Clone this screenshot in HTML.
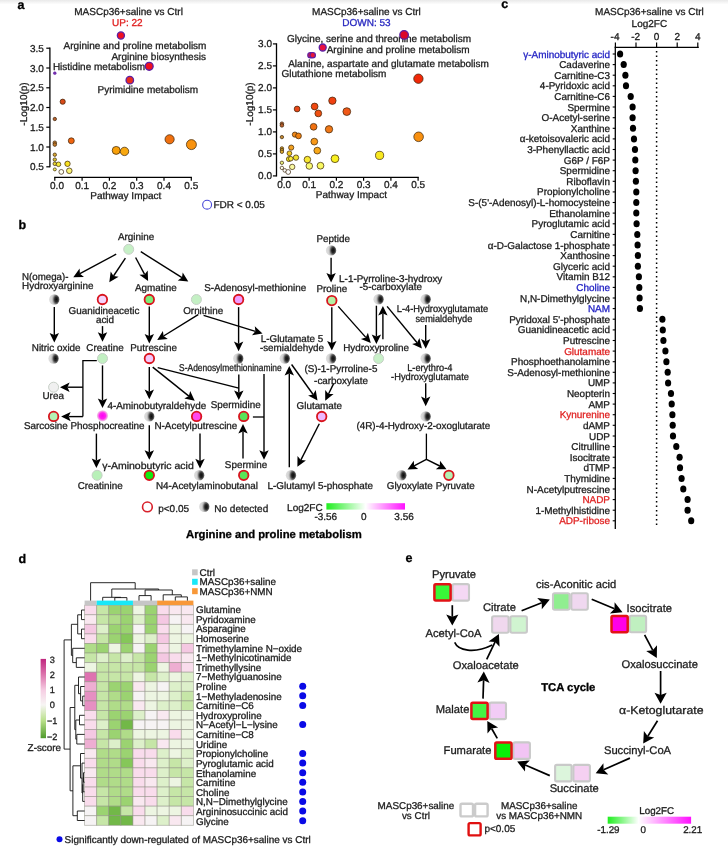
<!DOCTYPE html>
<html><head><meta charset="utf-8"><title>Figure</title>
<style>html,body{margin:0;padding:0;background:#fff}body{width:728px;height:846px;overflow:hidden}svg{display:block;font-family:"Liberation Sans",sans-serif;text-rendering:geometricPrecision}text{stroke:#1c1c1c;stroke-width:0.3px}</style>
</head><body>
<svg width="728" height="846" viewBox="0 0 728 846" fill="#1c1c1c">
<rect width="728" height="846" fill="#fff"/>
<rect width="728" height="4.5" fill="url(#topb)"/>
<g style="will-change:opacity">
<defs>
<radialGradient id="nd" cx="0.7" cy="0.5" r="0.64" gradientTransform="translate(0.7 0.5) scale(1 1.5) translate(-0.7 -0.5)"><stop offset="0" stop-color="#0e0e0e"/><stop offset="0.25" stop-color="#2a2a2a"/><stop offset="0.42" stop-color="#707070"/><stop offset="0.56" stop-color="#b4b4b4"/><stop offset="0.72" stop-color="#d4d4d4"/><stop offset="1" stop-color="#dcdcdc"/></radialGradient>
<linearGradient id="gb" x1="0" y1="0" x2="1" y2="0"><stop offset="0" stop-color="#1fee1f"/><stop offset="0.5" stop-color="#ffffff"/><stop offset="1" stop-color="#ff10ff"/></linearGradient>
<linearGradient id="ge" x1="0" y1="0" x2="1" y2="0"><stop offset="0" stop-color="#1fee1f"/><stop offset="0.37" stop-color="#ffffff"/><stop offset="1" stop-color="#ff10ff"/></linearGradient>
<linearGradient id="gz" x1="0" y1="0" x2="0" y2="1"><stop offset="0" stop-color="#c0267e"/><stop offset="0.2" stop-color="#dd77ae"/><stop offset="0.4" stop-color="#f6cfe4"/><stop offset="0.58" stop-color="#f7f5f4"/><stop offset="0.78" stop-color="#b9e08a"/><stop offset="1" stop-color="#4f9a2c"/></linearGradient>
<radialGradient id="glow"><stop offset="0" stop-color="#ff00f4"/><stop offset="0.55" stop-color="#ff22f0"/><stop offset="0.8" stop-color="#f88ce8"/><stop offset="1" stop-color="#eed0e8"/></radialGradient>
<linearGradient id="topb" x1="0" y1="0" x2="0" y2="1"><stop offset="0" stop-color="#e9e9e9"/><stop offset="1" stop-color="#ffffff"/></linearGradient>
<filter id="soft" x="-20%" y="-20%" width="140%" height="140%"><feGaussianBlur stdDeviation="0.35"/></filter>
</defs>
<text x="17.5" y="9" font-size="12.5" font-weight="bold" fill="#000" style="stroke:#000">a</text>
<line x1="49.9" y1="47.6" x2="49.9" y2="167.3" stroke="#000" stroke-width="1.3"/>
<line x1="46.3" y1="48.2" x2="49.9" y2="48.2" stroke="#000" stroke-width="1.2"/>
<text x="43.8" y="51.8" font-size="10" text-anchor="end">3.5</text>
<line x1="46.3" y1="68.0" x2="49.9" y2="68.0" stroke="#000" stroke-width="1.2"/>
<text x="43.8" y="71.6" font-size="10" text-anchor="end">3.0</text>
<line x1="46.3" y1="87.8" x2="49.9" y2="87.8" stroke="#000" stroke-width="1.2"/>
<text x="43.8" y="91.4" font-size="10" text-anchor="end">2.5</text>
<line x1="46.3" y1="107.5" x2="49.9" y2="107.5" stroke="#000" stroke-width="1.2"/>
<text x="43.8" y="111.1" font-size="10" text-anchor="end">2.0</text>
<line x1="46.3" y1="127.2" x2="49.9" y2="127.2" stroke="#000" stroke-width="1.2"/>
<text x="43.8" y="130.8" font-size="10" text-anchor="end">1.5</text>
<line x1="46.3" y1="147.0" x2="49.9" y2="147.0" stroke="#000" stroke-width="1.2"/>
<text x="43.8" y="150.6" font-size="10" text-anchor="end">1.0</text>
<line x1="46.3" y1="166.8" x2="49.9" y2="166.8" stroke="#000" stroke-width="1.2"/>
<text x="43.8" y="170.4" font-size="10" text-anchor="end">0.5</text>
<line x1="54.2" y1="177.3" x2="191.9" y2="177.3" stroke="#000" stroke-width="1.3"/>
<line x1="54.8" y1="177.3" x2="54.8" y2="180.70000000000002" stroke="#000" stroke-width="1.2"/>
<text x="57.0" y="188.7" font-size="10" text-anchor="middle">0.0</text>
<line x1="82.1" y1="177.3" x2="82.1" y2="180.70000000000002" stroke="#000" stroke-width="1.2"/>
<text x="82.1" y="188.7" font-size="10" text-anchor="middle">0.1</text>
<line x1="109.4" y1="177.3" x2="109.4" y2="180.70000000000002" stroke="#000" stroke-width="1.2"/>
<text x="109.4" y="188.7" font-size="10" text-anchor="middle">0.2</text>
<line x1="136.7" y1="177.3" x2="136.7" y2="180.70000000000002" stroke="#000" stroke-width="1.2"/>
<text x="136.7" y="188.7" font-size="10" text-anchor="middle">0.3</text>
<line x1="164.0" y1="177.3" x2="164.0" y2="180.70000000000002" stroke="#000" stroke-width="1.2"/>
<text x="164.0" y="188.7" font-size="10" text-anchor="middle">0.4</text>
<line x1="191.3" y1="177.3" x2="191.3" y2="180.70000000000002" stroke="#000" stroke-width="1.2"/>
<text x="191.3" y="188.7" font-size="10" text-anchor="middle">0.5</text>
<text x="125.8" y="198.9" font-size="10" text-anchor="middle">Pathway Impact</text>
<text x="27.3" y="104" font-size="10" text-anchor="middle" transform="rotate(-90 27.3 104)">-Log10(p)</text>
<text x="128.6" y="14.6" font-size="10" text-anchor="middle">MASCp36+saline vs Ctrl</text>
<text x="127.39999999999999" y="26.3" font-size="10" text-anchor="middle" fill="#e02222" style="stroke:#e02222">UP: 22</text>
<text x="63.6" y="48.6" font-size="10">Arginine and proline metabolism</text>
<text x="111.4" y="60" font-size="10">Arginine biosynthesis</text>
<text x="52.9" y="69.6" font-size="10">Histidine metabolism</text>
<text x="97.5" y="92.9" font-size="10">Pyrimidine metabolism</text>
<circle cx="54.8" cy="73.2" r="1.4" fill="#7a2fa8" stroke="#5a1fb0" stroke-width="0.5"/>
<circle cx="62.7" cy="101.7" r="2.6" fill="#d84a18" stroke="#3a2208" stroke-width="0.7"/>
<circle cx="54.8" cy="119" r="1.7" fill="#b8602c" stroke="#3a2208" stroke-width="0.7"/>
<circle cx="71.3" cy="140.8" r="3.0" fill="#f0640f" stroke="#3a2208" stroke-width="0.7"/>
<circle cx="54.8" cy="142.7" r="1.8" fill="#c07828" stroke="#3a2208" stroke-width="0.7"/>
<circle cx="54.8" cy="144.6" r="1.8" fill="#c07828" stroke="#3a2208" stroke-width="0.7"/>
<circle cx="169.6" cy="139.3" r="4.6" fill="#f0700f" stroke="#3a2208" stroke-width="0.7"/>
<circle cx="191.4" cy="144.6" r="5.0" fill="#f8920f" stroke="#3a2208" stroke-width="0.7"/>
<circle cx="116.2" cy="150.4" r="4.0" fill="#f8a008" stroke="#3a2208" stroke-width="0.7"/>
<circle cx="124.5" cy="151.4" r="4.2" fill="#f8a810" stroke="#3a2208" stroke-width="0.7"/>
<circle cx="54.8" cy="154.7" r="1.7" fill="#d8a830" stroke="#3a2208" stroke-width="0.7"/>
<circle cx="54.8" cy="159.6" r="1.7" fill="#d8c030" stroke="#3a2208" stroke-width="0.7"/>
<circle cx="54.8" cy="163.8" r="1.8" fill="#e8d830" stroke="#3a2208" stroke-width="0.7"/>
<circle cx="58.5" cy="164.3" r="2.3" fill="#f2ea3a" stroke="#3a2208" stroke-width="0.7"/>
<circle cx="67.5" cy="163.8" r="2.7" fill="#f8e020" stroke="#3a2208" stroke-width="0.7"/>
<circle cx="54.8" cy="169.4" r="1.5" fill="#f0f060" stroke="#3a2208" stroke-width="0.7"/>
<circle cx="61.3" cy="171.9" r="2.4" fill="#fffff2" stroke="#3a2208" stroke-width="0.7"/>
<circle cx="69.3" cy="170.8" r="2.8" fill="#f8f272" stroke="#3a2208" stroke-width="0.7"/>
<circle cx="120.9" cy="35.5" r="3.55" fill="#f01020" stroke="#5c1fa4" stroke-width="1.3"/>
<circle cx="149.2" cy="66.3" r="3.95" fill="#f01020" stroke="#5c1fa4" stroke-width="1.3"/>
<circle cx="129.8" cy="80.2" r="3.75" fill="#e82c1c" stroke="#5c1fa4" stroke-width="1.3"/>
<line x1="276.5" y1="43.3" x2="276.5" y2="176.5" stroke="#000" stroke-width="1.3"/>
<line x1="272.9" y1="43.9" x2="276.5" y2="43.9" stroke="#000" stroke-width="1.2"/>
<text x="272" y="47.0" font-size="10" text-anchor="end">3.0</text>
<line x1="272.9" y1="65.9" x2="276.5" y2="65.9" stroke="#000" stroke-width="1.2"/>
<text x="272" y="69.0" font-size="10" text-anchor="end">2.5</text>
<line x1="272.9" y1="87.9" x2="276.5" y2="87.9" stroke="#000" stroke-width="1.2"/>
<text x="272" y="91.0" font-size="10" text-anchor="end">2.0</text>
<line x1="272.9" y1="109.9" x2="276.5" y2="109.9" stroke="#000" stroke-width="1.2"/>
<text x="272" y="113.0" font-size="10" text-anchor="end">1.5</text>
<line x1="272.9" y1="131.9" x2="276.5" y2="131.9" stroke="#000" stroke-width="1.2"/>
<text x="272" y="135.0" font-size="10" text-anchor="end">1.0</text>
<line x1="272.9" y1="153.9" x2="276.5" y2="153.9" stroke="#000" stroke-width="1.2"/>
<text x="272" y="157.0" font-size="10" text-anchor="end">0.5</text>
<line x1="272.9" y1="175.9" x2="276.5" y2="175.9" stroke="#000" stroke-width="1.2"/>
<text x="272" y="179.0" font-size="10" text-anchor="end">0.0</text>
<line x1="281.3" y1="177.4" x2="418.8" y2="177.4" stroke="#000" stroke-width="1.3"/>
<line x1="281.9" y1="177.4" x2="281.9" y2="180.8" stroke="#000" stroke-width="1.2"/>
<text x="284.1" y="188.2" font-size="10" text-anchor="middle">0.0</text>
<line x1="309.1" y1="177.4" x2="309.1" y2="180.8" stroke="#000" stroke-width="1.2"/>
<text x="309.1" y="188.2" font-size="10" text-anchor="middle">0.1</text>
<line x1="336.4" y1="177.4" x2="336.4" y2="180.8" stroke="#000" stroke-width="1.2"/>
<text x="336.4" y="188.2" font-size="10" text-anchor="middle">0.2</text>
<line x1="363.6" y1="177.4" x2="363.6" y2="180.8" stroke="#000" stroke-width="1.2"/>
<text x="363.6" y="188.2" font-size="10" text-anchor="middle">0.3</text>
<line x1="390.9" y1="177.4" x2="390.9" y2="180.8" stroke="#000" stroke-width="1.2"/>
<text x="390.9" y="188.2" font-size="10" text-anchor="middle">0.4</text>
<line x1="418.1" y1="177.4" x2="418.1" y2="180.8" stroke="#000" stroke-width="1.2"/>
<text x="418.1" y="188.2" font-size="10" text-anchor="middle">0.5</text>
<text x="351.4" y="198.4" font-size="10" text-anchor="middle">Pathway Impact</text>
<text x="253.2" y="104" font-size="10" text-anchor="middle" transform="rotate(-90 253.2 104)">-Log10(p)</text>
<text x="366.4" y="14.6" font-size="10" text-anchor="middle">MASCp36+saline vs Ctrl</text>
<text x="366.4" y="26.3" font-size="10" text-anchor="middle" fill="#2a2ac0" style="stroke:#2a2ac0">DOWN: 53</text>
<text x="287.1" y="41.5" font-size="10">Glycine, serine and threonine metabolism</text>
<text x="326.7" y="53.4" font-size="10">Arginine and proline metabolism</text>
<text x="288.2" y="66.8" font-size="10">Alanine, aspartate and glutamate metabolism</text>
<text x="281.4" y="76.7" font-size="10">Glutathione metabolism</text>
<circle cx="332.4" cy="100.7" r="3.7" fill="#f04010" stroke="#3a2208" stroke-width="0.7"/>
<circle cx="314.6" cy="106.5" r="3.4" fill="#f04810" stroke="#3a2208" stroke-width="0.7"/>
<circle cx="297.1" cy="109" r="2.9" fill="#e84818" stroke="#3a2208" stroke-width="0.7"/>
<circle cx="318.3" cy="113.4" r="3.4" fill="#f05010" stroke="#3a2208" stroke-width="0.7"/>
<circle cx="346.8" cy="111.6" r="3.9" fill="#f05818" stroke="#3a2208" stroke-width="0.7"/>
<circle cx="281.9" cy="123.7" r="1.8" fill="#b86030" stroke="#3a2208" stroke-width="0.7"/>
<circle cx="281.9" cy="125.4" r="1.8" fill="#b86030" stroke="#3a2208" stroke-width="0.7"/>
<circle cx="313.6" cy="126.8" r="3.4" fill="#f07010" stroke="#3a2208" stroke-width="0.7"/>
<circle cx="329" cy="129.3" r="3.7" fill="#f07818" stroke="#3a2208" stroke-width="0.7"/>
<circle cx="294.9" cy="134.6" r="2.6" fill="#f08818" stroke="#3a2208" stroke-width="0.7"/>
<circle cx="298.5" cy="135.9" r="2.9" fill="#f08010" stroke="#3a2208" stroke-width="0.7"/>
<circle cx="281.9" cy="137.1" r="1.7" fill="#c08830" stroke="#3a2208" stroke-width="0.7"/>
<circle cx="314.3" cy="141.6" r="3.4" fill="#f89818" stroke="#3a2208" stroke-width="0.7"/>
<circle cx="291.2" cy="147.6" r="2.6" fill="#f0a020" stroke="#3a2208" stroke-width="0.7"/>
<circle cx="281.9" cy="148.4" r="1.7" fill="#d8a830" stroke="#3a2208" stroke-width="0.7"/>
<circle cx="281.9" cy="150.1" r="1.7" fill="#d8a830" stroke="#3a2208" stroke-width="0.7"/>
<circle cx="281.9" cy="151.8" r="1.7" fill="#d8a830" stroke="#3a2208" stroke-width="0.7"/>
<circle cx="317.3" cy="150.6" r="3.4" fill="#f8a818" stroke="#3a2208" stroke-width="0.7"/>
<circle cx="289.4" cy="153.3" r="2.4" fill="#f0c820" stroke="#3a2208" stroke-width="0.7"/>
<circle cx="296" cy="157.6" r="2.7" fill="#f0e030" stroke="#3a2208" stroke-width="0.7"/>
<circle cx="288.9" cy="159.1" r="2.5" fill="#f0e020" stroke="#3a2208" stroke-width="0.7"/>
<circle cx="290.8" cy="158.7" r="2.3" fill="#f8e838" stroke="#3a2208" stroke-width="0.7"/>
<circle cx="307.4" cy="159.6" r="3.3" fill="#f8e830" stroke="#3a2208" stroke-width="0.7"/>
<circle cx="335" cy="158.7" r="3.9" fill="#f8f020" stroke="#3a2208" stroke-width="0.7"/>
<circle cx="281.9" cy="162.8" r="1.7" fill="#e8f080" stroke="#3a2208" stroke-width="0.7"/>
<circle cx="309.3" cy="166" r="3.3" fill="#f8f870" stroke="#3a2208" stroke-width="0.7"/>
<circle cx="320.5" cy="165.7" r="3.4" fill="#f8f860" stroke="#3a2208" stroke-width="0.7"/>
<circle cx="292.2" cy="166.9" r="2.7" fill="#f8f8a0" stroke="#3a2208" stroke-width="0.7"/>
<circle cx="281.9" cy="167.9" r="1.7" fill="#fffff0" stroke="#3a2208" stroke-width="0.7"/>
<circle cx="284.8" cy="170.4" r="1.8" fill="#ffffff" stroke="#3a2208" stroke-width="0.7"/>
<circle cx="288.2" cy="172" r="2.4" fill="#ffffff" stroke="#3a2208" stroke-width="0.7"/>
<circle cx="418.4" cy="78.7" r="4.7" fill="#f02808" stroke="#3a2208" stroke-width="0.7"/>
<circle cx="418.6" cy="136.8" r="4.8" fill="#f89010" stroke="#3a2208" stroke-width="0.7"/>
<circle cx="379.6" cy="155.4" r="4.1" fill="#f8e820" stroke="#3a2208" stroke-width="0.7"/>
<circle cx="404.1" cy="34.9" r="4.3" fill="#dc0628" stroke="#5c1fa4" stroke-width="1.3"/>
<circle cx="322.7" cy="47.5" r="3.5" fill="#e81040" stroke="#5c1fa4" stroke-width="1.3"/>
<circle cx="310.5" cy="55.2" r="2.7" fill="#e81838" stroke="#5c1fa4" stroke-width="1.2"/>
<circle cx="312.7" cy="55.2" r="2.7" fill="#e81838" stroke="#5c1fa4" stroke-width="1.2"/>
<circle cx="207.1" cy="204.7" r="4.45" fill="#fff" stroke="#4848d8" stroke-width="1.1"/>
<text x="213.4" y="208.1" font-size="10">FDR &lt; 0.05</text>
<text x="501.2" y="8.3" font-size="12.5" font-weight="bold" fill="#000" style="stroke:#000">c</text>
<text x="649.4" y="14.8" font-size="10" text-anchor="middle">MASCp36+saline vs Ctrl</text>
<text x="649.4" y="27" font-size="10" text-anchor="middle">Log2FC</text>
<line x1="614.7" y1="47.3" x2="698.8" y2="47.3" stroke="#000" stroke-width="1.3"/>
<line x1="615.4" y1="42.6" x2="615.4" y2="47.3" stroke="#000" stroke-width="1.2"/>
<text x="615.0" y="39.6" font-size="10" text-anchor="middle">-4</text>
<line x1="636.0" y1="42.6" x2="636.0" y2="47.3" stroke="#000" stroke-width="1.2"/>
<text x="635.6" y="39.6" font-size="10" text-anchor="middle">-2</text>
<line x1="656.6" y1="42.6" x2="656.6" y2="47.3" stroke="#000" stroke-width="1.2"/>
<text x="656.6" y="39.6" font-size="10" text-anchor="middle">0</text>
<line x1="677.2" y1="42.6" x2="677.2" y2="47.3" stroke="#000" stroke-width="1.2"/>
<text x="677.2" y="39.6" font-size="10" text-anchor="middle">2</text>
<line x1="697.8" y1="42.6" x2="697.8" y2="47.3" stroke="#000" stroke-width="1.2"/>
<text x="697.8" y="39.6" font-size="10" text-anchor="middle">4</text>
<line x1="615.3" y1="46.7" x2="615.3" y2="529" stroke="#000" stroke-width="1.3"/>
<line x1="656.6" y1="49" x2="656.6" y2="528" stroke="#000" stroke-width="1.5" stroke-dasharray="1.5 3" stroke-dashoffset="-2.1"/>
<text x="610.0" y="57.5" font-size="9.95" text-anchor="end" fill="#2424c4" style="stroke:#2424c4">γ-Aminobutyric acid</text>
<line x1="612.7" y1="54.0" x2="615.3" y2="54.0" stroke="#000" stroke-width="1.1"/>
<ellipse cx="620.1" cy="54.0" rx="3.1" ry="3.5" fill="#000"/>
<text x="610.0" y="68.1" font-size="9.95" text-anchor="end">Cadaverine</text>
<line x1="612.7" y1="64.6" x2="615.3" y2="64.6" stroke="#000" stroke-width="1.1"/>
<ellipse cx="623.7" cy="64.6" rx="3.1" ry="3.5" fill="#000"/>
<text x="610.0" y="78.7" font-size="9.95" text-anchor="end">Carnitine-C3</text>
<line x1="612.7" y1="75.2" x2="615.3" y2="75.2" stroke="#000" stroke-width="1.1"/>
<ellipse cx="625.4" cy="75.2" rx="3.1" ry="3.5" fill="#000"/>
<text x="610.0" y="89.3" font-size="9.95" text-anchor="end">4-Pyridoxic acid</text>
<line x1="612.7" y1="85.8" x2="615.3" y2="85.8" stroke="#000" stroke-width="1.1"/>
<ellipse cx="626.0" cy="85.8" rx="3.1" ry="3.5" fill="#000"/>
<text x="610.0" y="99.9" font-size="9.95" text-anchor="end">Carnitine-C6</text>
<line x1="612.7" y1="96.4" x2="615.3" y2="96.4" stroke="#000" stroke-width="1.1"/>
<ellipse cx="630.7" cy="96.4" rx="3.1" ry="3.5" fill="#000"/>
<text x="610.0" y="110.5" font-size="9.95" text-anchor="end">Spermine</text>
<line x1="612.7" y1="107.0" x2="615.3" y2="107.0" stroke="#000" stroke-width="1.1"/>
<ellipse cx="632.6" cy="107.0" rx="3.1" ry="3.5" fill="#000"/>
<text x="610.0" y="121.2" font-size="9.95" text-anchor="end">O-Acetyl-serine</text>
<line x1="612.7" y1="117.7" x2="615.3" y2="117.7" stroke="#000" stroke-width="1.1"/>
<ellipse cx="632.6" cy="117.7" rx="3.1" ry="3.5" fill="#000"/>
<text x="610.0" y="131.8" font-size="9.95" text-anchor="end">Xanthine</text>
<line x1="612.7" y1="128.3" x2="615.3" y2="128.3" stroke="#000" stroke-width="1.1"/>
<ellipse cx="633.0" cy="128.3" rx="3.1" ry="3.5" fill="#000"/>
<text x="610.0" y="142.4" font-size="9.95" text-anchor="end">α-ketoisovaleric acid</text>
<line x1="612.7" y1="138.9" x2="615.3" y2="138.9" stroke="#000" stroke-width="1.1"/>
<ellipse cx="634.0" cy="138.9" rx="3.1" ry="3.5" fill="#000"/>
<text x="610.0" y="153.0" font-size="9.95" text-anchor="end">3-Phenyllactic acid</text>
<line x1="612.7" y1="149.5" x2="615.3" y2="149.5" stroke="#000" stroke-width="1.1"/>
<ellipse cx="635.0" cy="149.5" rx="3.1" ry="3.5" fill="#000"/>
<text x="610.0" y="163.6" font-size="9.95" text-anchor="end">G6P / F6P</text>
<line x1="612.7" y1="160.1" x2="615.3" y2="160.1" stroke="#000" stroke-width="1.1"/>
<ellipse cx="635.3" cy="160.1" rx="3.1" ry="3.5" fill="#000"/>
<text x="610.0" y="174.2" font-size="9.95" text-anchor="end">Spermidine</text>
<line x1="612.7" y1="170.7" x2="615.3" y2="170.7" stroke="#000" stroke-width="1.1"/>
<ellipse cx="635.6" cy="170.7" rx="3.1" ry="3.5" fill="#000"/>
<text x="610.0" y="184.8" font-size="9.95" text-anchor="end">Riboflavin</text>
<line x1="612.7" y1="181.3" x2="615.3" y2="181.3" stroke="#000" stroke-width="1.1"/>
<ellipse cx="635.9" cy="181.3" rx="3.1" ry="3.5" fill="#000"/>
<text x="610.0" y="195.4" font-size="9.95" text-anchor="end">Propionylcholine</text>
<line x1="612.7" y1="191.9" x2="615.3" y2="191.9" stroke="#000" stroke-width="1.1"/>
<ellipse cx="636.3" cy="191.9" rx="3.1" ry="3.5" fill="#000"/>
<text x="610.0" y="206.0" font-size="9.95" text-anchor="end">S-(5'-Adenosyl)-L-homocysteine</text>
<line x1="612.7" y1="202.5" x2="615.3" y2="202.5" stroke="#000" stroke-width="1.1"/>
<ellipse cx="636.3" cy="202.5" rx="3.1" ry="3.5" fill="#000"/>
<text x="610.0" y="216.6" font-size="9.95" text-anchor="end">Ethanolamine</text>
<line x1="612.7" y1="213.1" x2="615.3" y2="213.1" stroke="#000" stroke-width="1.1"/>
<ellipse cx="636.3" cy="213.1" rx="3.1" ry="3.5" fill="#000"/>
<text x="610.0" y="227.3" font-size="9.95" text-anchor="end">Pyroglutamic acid</text>
<line x1="612.7" y1="223.8" x2="615.3" y2="223.8" stroke="#000" stroke-width="1.1"/>
<ellipse cx="636.6" cy="223.8" rx="3.1" ry="3.5" fill="#000"/>
<text x="610.0" y="237.9" font-size="9.95" text-anchor="end">Carnitine</text>
<line x1="612.7" y1="234.4" x2="615.3" y2="234.4" stroke="#000" stroke-width="1.1"/>
<ellipse cx="637.3" cy="234.4" rx="3.1" ry="3.5" fill="#000"/>
<text x="610.0" y="248.5" font-size="9.95" text-anchor="end">α-D-Galactose 1-phosphate</text>
<line x1="612.7" y1="245.0" x2="615.3" y2="245.0" stroke="#000" stroke-width="1.1"/>
<ellipse cx="637.6" cy="245.0" rx="3.1" ry="3.5" fill="#000"/>
<text x="610.0" y="259.1" font-size="9.95" text-anchor="end">Xanthosine</text>
<line x1="612.7" y1="255.6" x2="615.3" y2="255.6" stroke="#000" stroke-width="1.1"/>
<ellipse cx="637.9" cy="255.6" rx="3.1" ry="3.5" fill="#000"/>
<text x="610.0" y="269.7" font-size="9.95" text-anchor="end">Glyceric acid</text>
<line x1="612.7" y1="266.2" x2="615.3" y2="266.2" stroke="#000" stroke-width="1.1"/>
<ellipse cx="637.9" cy="266.2" rx="3.1" ry="3.5" fill="#000"/>
<text x="610.0" y="280.3" font-size="9.95" text-anchor="end">Vitamin B12</text>
<line x1="612.7" y1="276.8" x2="615.3" y2="276.8" stroke="#000" stroke-width="1.1"/>
<ellipse cx="638.9" cy="276.8" rx="3.1" ry="3.5" fill="#000"/>
<text x="610.0" y="290.9" font-size="9.95" text-anchor="end" fill="#2424c4" style="stroke:#2424c4">Choline</text>
<line x1="612.7" y1="287.4" x2="615.3" y2="287.4" stroke="#000" stroke-width="1.1"/>
<ellipse cx="639.3" cy="287.4" rx="3.1" ry="3.5" fill="#000"/>
<text x="610.0" y="301.5" font-size="9.95" text-anchor="end">N,N-Dimethylglycine</text>
<line x1="612.7" y1="298.0" x2="615.3" y2="298.0" stroke="#000" stroke-width="1.1"/>
<ellipse cx="639.6" cy="298.0" rx="3.1" ry="3.5" fill="#000"/>
<text x="610.0" y="312.1" font-size="9.95" text-anchor="end" fill="#2424c4" style="stroke:#2424c4">NAM</text>
<line x1="612.7" y1="308.6" x2="615.3" y2="308.6" stroke="#000" stroke-width="1.1"/>
<ellipse cx="639.9" cy="308.6" rx="3.1" ry="3.5" fill="#000"/>
<text x="610.0" y="322.7" font-size="9.95" text-anchor="end">Pyridoxal 5'-phosphate</text>
<line x1="612.7" y1="319.2" x2="615.3" y2="319.2" stroke="#000" stroke-width="1.1"/>
<ellipse cx="662.4" cy="319.2" rx="3.1" ry="3.5" fill="#000"/>
<text x="610.0" y="333.4" font-size="9.95" text-anchor="end">Guanidineacetic acid</text>
<line x1="612.7" y1="329.9" x2="615.3" y2="329.9" stroke="#000" stroke-width="1.1"/>
<ellipse cx="662.8" cy="329.9" rx="3.1" ry="3.5" fill="#000"/>
<text x="610.0" y="344.0" font-size="9.95" text-anchor="end">Putrescine</text>
<line x1="612.7" y1="340.5" x2="615.3" y2="340.5" stroke="#000" stroke-width="1.1"/>
<ellipse cx="663.4" cy="340.5" rx="3.1" ry="3.5" fill="#000"/>
<text x="610.0" y="354.6" font-size="9.95" text-anchor="end" fill="#e02424" style="stroke:#e02424">Glutamate</text>
<line x1="612.7" y1="351.1" x2="615.3" y2="351.1" stroke="#000" stroke-width="1.1"/>
<ellipse cx="665.4" cy="351.1" rx="3.1" ry="3.5" fill="#000"/>
<text x="610.0" y="365.2" font-size="9.95" text-anchor="end">Phosphoethanolamine</text>
<line x1="612.7" y1="361.7" x2="615.3" y2="361.7" stroke="#000" stroke-width="1.1"/>
<ellipse cx="666.4" cy="361.7" rx="3.1" ry="3.5" fill="#000"/>
<text x="610.0" y="375.8" font-size="9.95" text-anchor="end">S-Adenosyl-methionine</text>
<line x1="612.7" y1="372.3" x2="615.3" y2="372.3" stroke="#000" stroke-width="1.1"/>
<ellipse cx="667.7" cy="372.3" rx="3.1" ry="3.5" fill="#000"/>
<text x="610.0" y="386.4" font-size="9.95" text-anchor="end">UMP</text>
<line x1="612.7" y1="382.9" x2="615.3" y2="382.9" stroke="#000" stroke-width="1.1"/>
<ellipse cx="668.1" cy="382.9" rx="3.1" ry="3.5" fill="#000"/>
<text x="610.0" y="397.0" font-size="9.95" text-anchor="end">Neopterin</text>
<line x1="612.7" y1="393.5" x2="615.3" y2="393.5" stroke="#000" stroke-width="1.1"/>
<ellipse cx="671.0" cy="393.5" rx="3.1" ry="3.5" fill="#000"/>
<text x="610.0" y="407.6" font-size="9.95" text-anchor="end">AMP</text>
<line x1="612.7" y1="404.1" x2="615.3" y2="404.1" stroke="#000" stroke-width="1.1"/>
<ellipse cx="671.7" cy="404.1" rx="3.1" ry="3.5" fill="#000"/>
<text x="610.0" y="418.2" font-size="9.95" text-anchor="end" fill="#e02424" style="stroke:#e02424">Kynurenine</text>
<line x1="612.7" y1="414.7" x2="615.3" y2="414.7" stroke="#000" stroke-width="1.1"/>
<ellipse cx="672.4" cy="414.7" rx="3.1" ry="3.5" fill="#000"/>
<text x="610.0" y="428.8" font-size="9.95" text-anchor="end">dAMP</text>
<line x1="612.7" y1="425.3" x2="615.3" y2="425.3" stroke="#000" stroke-width="1.1"/>
<ellipse cx="672.7" cy="425.3" rx="3.1" ry="3.5" fill="#000"/>
<text x="610.0" y="439.5" font-size="9.95" text-anchor="end">UDP</text>
<line x1="612.7" y1="436.0" x2="615.3" y2="436.0" stroke="#000" stroke-width="1.1"/>
<ellipse cx="673.0" cy="436.0" rx="3.1" ry="3.5" fill="#000"/>
<text x="610.0" y="450.1" font-size="9.95" text-anchor="end">Citrulline</text>
<line x1="612.7" y1="446.6" x2="615.3" y2="446.6" stroke="#000" stroke-width="1.1"/>
<ellipse cx="676.3" cy="446.6" rx="3.1" ry="3.5" fill="#000"/>
<text x="610.0" y="460.7" font-size="9.95" text-anchor="end">Isocitrate</text>
<line x1="612.7" y1="457.2" x2="615.3" y2="457.2" stroke="#000" stroke-width="1.1"/>
<ellipse cx="679.6" cy="457.2" rx="3.1" ry="3.5" fill="#000"/>
<text x="610.0" y="471.3" font-size="9.95" text-anchor="end">dTMP</text>
<line x1="612.7" y1="467.8" x2="615.3" y2="467.8" stroke="#000" stroke-width="1.1"/>
<ellipse cx="680.0" cy="467.8" rx="3.1" ry="3.5" fill="#000"/>
<text x="610.0" y="481.9" font-size="9.95" text-anchor="end">Thymidine</text>
<line x1="612.7" y1="478.4" x2="615.3" y2="478.4" stroke="#000" stroke-width="1.1"/>
<ellipse cx="681.6" cy="478.4" rx="3.1" ry="3.5" fill="#000"/>
<text x="610.0" y="492.5" font-size="9.95" text-anchor="end">N-Acetylputrescine</text>
<line x1="612.7" y1="489.0" x2="615.3" y2="489.0" stroke="#000" stroke-width="1.1"/>
<ellipse cx="683.3" cy="489.0" rx="3.1" ry="3.5" fill="#000"/>
<text x="610.0" y="503.1" font-size="9.95" text-anchor="end" fill="#e02424" style="stroke:#e02424">NADP</text>
<line x1="612.7" y1="499.6" x2="615.3" y2="499.6" stroke="#000" stroke-width="1.1"/>
<ellipse cx="687.6" cy="499.6" rx="3.1" ry="3.5" fill="#000"/>
<text x="610.0" y="513.7" font-size="9.95" text-anchor="end">1-Methylhistidine</text>
<line x1="612.7" y1="510.2" x2="615.3" y2="510.2" stroke="#000" stroke-width="1.1"/>
<ellipse cx="687.6" cy="510.2" rx="3.1" ry="3.5" fill="#000"/>
<text x="610.0" y="524.3" font-size="9.95" text-anchor="end" fill="#e02424" style="stroke:#e02424">ADP-ribose</text>
<line x1="612.7" y1="520.8" x2="615.3" y2="520.8" stroke="#000" stroke-width="1.1"/>
<ellipse cx="691.2" cy="520.8" rx="3.1" ry="3.5" fill="#000"/>
<text x="18.4" y="228.8" font-size="12.5" font-weight="bold" fill="#000" style="stroke:#000">b</text>
<polygon points="73.3,277.3 79.6,268.6 79.9,273.7 84.0,276.9" fill="#000"/>
<line x1="116.2" y1="254.2" x2="79.9" y2="273.7" stroke="#000" stroke-width="1.4"/>
<polygon points="109.3,282.2 110.7,271.6 113.5,276.0 118.6,276.8" fill="#000"/>
<line x1="125.4" y1="258.1" x2="113.5" y2="276.0" stroke="#000" stroke-width="1.4"/>
<polygon points="148.1,281.1 139.4,274.8 144.6,274.4 147.7,270.4" fill="#000"/>
<line x1="135.6" y1="257.5" x2="144.6" y2="274.4" stroke="#000" stroke-width="1.4"/>
<polygon points="188.3,281.6 177.7,280.5 182.0,277.6 182.7,272.5" fill="#000"/>
<line x1="140.8" y1="251.7" x2="182.0" y2="277.6" stroke="#000" stroke-width="1.4"/>
<polygon points="54.3,342.6 49.6,333.0 54.3,335.1 59.0,333.0" fill="#000"/>
<line x1="54.3" y1="307.1" x2="54.3" y2="335.1" stroke="#000" stroke-width="1.4"/>
<polygon points="102.5,341.8 97.8,332.2 102.5,334.3 107.2,332.2" fill="#000"/>
<line x1="102.5" y1="326.1" x2="102.5" y2="334.3" stroke="#000" stroke-width="1.4"/>
<polygon points="149.3,343.5 144.6,333.9 149.3,336.0 154.0,333.9" fill="#000"/>
<line x1="149.3" y1="306.6" x2="149.3" y2="336.0" stroke="#000" stroke-width="1.4"/>
<polygon points="157.2,339.9 162.9,330.9 163.6,336.0 167.8,338.9" fill="#000"/>
<line x1="198.2" y1="314.6" x2="163.6" y2="336.0" stroke="#000" stroke-width="1.4"/>
<polygon points="262.5,333.6 252.0,335.2 255.4,331.3 254.8,326.2" fill="#000"/>
<line x1="203.6" y1="315.4" x2="255.4" y2="331.3" stroke="#000" stroke-width="1.4"/>
<polygon points="238.6,351.2 233.9,341.6 238.6,343.7 243.3,341.6" fill="#000"/>
<line x1="238.6" y1="307.1" x2="238.6" y2="343.7" stroke="#000" stroke-width="1.4"/>
<polygon points="102.5,408.0 97.8,398.4 102.5,400.5 107.2,398.4" fill="#000"/>
<line x1="102.5" y1="365.4" x2="102.5" y2="400.5" stroke="#000" stroke-width="1.4"/>
<polygon points="60.0,387.2 69.6,382.5 67.5,387.2 69.6,391.9" fill="#000"/>
<line x1="82.9" y1="387.2" x2="67.5" y2="387.2" stroke="#000" stroke-width="1.4"/>
<polygon points="61.1,416.6 70.7,411.9 68.6,416.6 70.7,421.3" fill="#000"/>
<line x1="82.9" y1="416.6" x2="68.6" y2="416.6" stroke="#000" stroke-width="1.4"/>
<polygon points="149.3,399.2 144.6,389.6 149.3,391.7 154.0,389.6" fill="#000"/>
<line x1="149.3" y1="367.1" x2="149.3" y2="391.7" stroke="#000" stroke-width="1.4"/>
<polygon points="194.7,400.7 184.3,398.4 188.9,396.1 190.2,391.1" fill="#000"/>
<line x1="152.7" y1="367.1" x2="188.9" y2="396.1" stroke="#000" stroke-width="1.4"/>
<polygon points="238.8,400.0 234.1,390.4 238.8,392.5 243.5,390.4" fill="#000"/>
<line x1="238.8" y1="374.5" x2="238.8" y2="392.5" stroke="#000" stroke-width="1.4"/>
<polygon points="264.0,459.8 259.3,450.2 264.0,452.3 268.7,450.2" fill="#000"/>
<line x1="264" y1="374" x2="264.0" y2="452.3" stroke="#000" stroke-width="1.4"/>
<polygon points="243.0,424.0 247.7,433.6 243.0,431.5 238.3,433.6" fill="#000"/>
<line x1="243" y1="458.6" x2="243.0" y2="431.5" stroke="#000" stroke-width="1.4"/>
<polygon points="289.3,365.9 294.0,375.5 289.3,373.4 284.6,375.5" fill="#000"/>
<line x1="289.3" y1="467.2" x2="289.3" y2="373.4" stroke="#000" stroke-width="1.4"/>
<polygon points="149.3,459.8 144.6,450.2 149.3,452.3 154.0,450.2" fill="#000"/>
<line x1="149.3" y1="425.2" x2="149.3" y2="452.3" stroke="#000" stroke-width="1.4"/>
<polygon points="200.0,468.4 195.3,458.8 200.0,460.9 204.7,458.8" fill="#000"/>
<line x1="200" y1="433.4" x2="200.0" y2="460.9" stroke="#000" stroke-width="1.4"/>
<polygon points="96.4,468.0 91.7,458.4 96.4,460.5 101.1,458.4" fill="#000"/>
<line x1="96.4" y1="433.6" x2="96.4" y2="460.5" stroke="#000" stroke-width="1.4"/>
<polygon points="317.5,400.6 308.1,395.5 313.1,394.5 315.7,390.0" fill="#000"/>
<line x1="291.6" y1="364.5" x2="313.1" y2="394.5" stroke="#000" stroke-width="1.4"/>
<polygon points="325.2,400.7 325.2,390.0 328.5,394.0 333.6,394.1" fill="#000"/>
<line x1="333.6" y1="383.6" x2="328.5" y2="394.0" stroke="#000" stroke-width="1.4"/>
<polygon points="297.4,466.8 297.5,456.1 300.8,460.1 305.9,460.4" fill="#000"/>
<line x1="319.3" y1="423.8" x2="300.8" y2="460.1" stroke="#000" stroke-width="1.4"/>
<polygon points="331.1,282.6 326.4,273.0 331.1,275.1 335.8,273.0" fill="#000"/>
<line x1="331.1" y1="257.7" x2="331.1" y2="275.1" stroke="#000" stroke-width="1.4"/>
<polygon points="331.8,350.5 327.1,340.9 331.8,343.0 336.5,340.9" fill="#000"/>
<line x1="331.8" y1="307.3" x2="331.8" y2="343.0" stroke="#000" stroke-width="1.4"/>
<polygon points="370.8,343.0 360.9,339.0 365.8,337.4 367.9,332.7" fill="#000"/>
<line x1="338.2" y1="306.4" x2="365.8" y2="337.4" stroke="#000" stroke-width="1.4"/>
<polygon points="376.4,344.1 371.7,334.5 376.4,336.6 381.1,334.5" fill="#000"/>
<line x1="376.4" y1="305.7" x2="376.4" y2="336.6" stroke="#000" stroke-width="1.4"/>
<polygon points="382.9,305.9 387.6,315.5 382.9,313.4 378.2,315.5" fill="#000"/>
<line x1="382.9" y1="339.3" x2="382.9" y2="313.4" stroke="#000" stroke-width="1.4"/>
<polygon points="421.9,348.4 412.1,344.0 417.1,342.7 419.4,338.0" fill="#000"/>
<line x1="387.1" y1="306.4" x2="417.1" y2="342.7" stroke="#000" stroke-width="1.4"/>
<polygon points="425.7,348.7 421.0,339.1 425.7,341.2 430.4,339.1" fill="#000"/>
<line x1="425.7" y1="325" x2="425.7" y2="341.2" stroke="#000" stroke-width="1.4"/>
<polygon points="425.7,406.2 421.0,396.6 425.7,398.7 430.4,396.6" fill="#000"/>
<line x1="425.7" y1="383.2" x2="425.7" y2="398.7" stroke="#000" stroke-width="1.4"/>
<polygon points="407.5,469.4 413.8,460.7 414.1,465.8 418.2,469.0" fill="#000"/>
<line x1="426.4" y1="459.3" x2="414.1" y2="465.8" stroke="#000" stroke-width="1.4"/>
<polygon points="446.5,469.3 435.8,469.2 439.8,466.0 440.0,460.8" fill="#000"/>
<line x1="426.4" y1="459.3" x2="439.8" y2="466.0" stroke="#000" stroke-width="1.4"/>
<polyline points="96.8,360.7 82.9,360.7 82.9,416.6" fill="none" stroke="#000" stroke-width="1.3"/>
<line x1="157.7" y1="367.6" x2="238.8" y2="388.1" stroke="#000" stroke-width="1.3"/>
<line x1="252.9" y1="417" x2="264" y2="417" stroke="#000" stroke-width="1.3"/>
<line x1="426.4" y1="433.6" x2="426.4" y2="460" stroke="#000" stroke-width="1.3"/>
<circle cx="128.7" cy="249.3" r="5.0" fill="#c6f0c6" stroke="#c6cec6" stroke-width="1.0"/>
<circle cx="54.3" cy="299.5" r="5.2" fill="url(#nd)" filter="url(#soft)"/>
<circle cx="102.4" cy="299.5" r="4.75" fill="#f4d4fc" stroke="#d8141e" stroke-width="1.8"/>
<circle cx="149.3" cy="299.5" r="4.75" fill="#7cec78" stroke="#d8141e" stroke-width="1.8"/>
<circle cx="196.4" cy="299.5" r="5.0" fill="#c4f0c4" stroke="#c6cec6" stroke-width="1.0"/>
<circle cx="238.6" cy="299.5" r="4.75" fill="#ee9cff" stroke="#d8141e" stroke-width="1.8"/>
<circle cx="53.6" cy="358.5" r="5.2" fill="url(#nd)" filter="url(#soft)"/>
<circle cx="102.5" cy="358.5" r="5.0" fill="#c2f0c2" stroke="#c6cec6" stroke-width="1.0"/>
<circle cx="149.4" cy="358.5" r="4.75" fill="#f2c8fa" stroke="#d8141e" stroke-width="1.8"/>
<circle cx="238.3" cy="358.5" r="5.2" fill="url(#nd)" filter="url(#soft)"/>
<circle cx="284.8" cy="358.5" r="5.2" fill="url(#nd)" filter="url(#soft)"/>
<circle cx="331.1" cy="358.5" r="5.2" fill="url(#nd)" filter="url(#soft)"/>
<circle cx="378.6" cy="358.5" r="5.0" fill="#c8f0c8" stroke="#c6cec6" stroke-width="1.0"/>
<circle cx="425.7" cy="358.5" r="5.2" fill="url(#nd)" filter="url(#soft)"/>
<circle cx="53.6" cy="387.2" r="5.0" fill="#f0f0f0" stroke="#c6cec6" stroke-width="1.0"/>
<circle cx="53.6" cy="416.4" r="4.75" fill="#b4f0b4" stroke="#d8141e" stroke-width="1.8"/>
<circle cx="102.5" cy="415.8" r="5.6" fill="url(#glow)"/>
<circle cx="149.3" cy="416.4" r="5.2" fill="url(#nd)" filter="url(#soft)"/>
<circle cx="196.6" cy="416.4" r="4.75" fill="#ff48ee" stroke="#d8141e" stroke-width="1.8"/>
<circle cx="243.7" cy="416.4" r="4.75" fill="#58e458" stroke="#d8141e" stroke-width="1.8"/>
<circle cx="321.7" cy="416.5" r="4.75" fill="#eeb8ff" stroke="#d8141e" stroke-width="1.8"/>
<circle cx="425.7" cy="416.4" r="5.2" fill="url(#nd)" filter="url(#soft)"/>
<circle cx="97.1" cy="475.3" r="5.0" fill="#b8f0b8" stroke="#c6cec6" stroke-width="1.0"/>
<circle cx="149.3" cy="475.3" r="4.75" fill="#10ec10" stroke="#d8141e" stroke-width="1.8"/>
<circle cx="199.2" cy="475.3" r="5.2" fill="url(#nd)" filter="url(#soft)"/>
<circle cx="243.7" cy="475.3" r="4.75" fill="#58e458" stroke="#d8141e" stroke-width="1.8"/>
<circle cx="291" cy="475.3" r="5.2" fill="url(#nd)" filter="url(#soft)"/>
<circle cx="401.4" cy="475.3" r="5.2" fill="url(#nd)" filter="url(#soft)"/>
<circle cx="448.9" cy="475.3" r="4.75" fill="#b4f0b4" stroke="#d8141e" stroke-width="1.8"/>
<circle cx="331.1" cy="250.4" r="5.2" fill="url(#nd)" filter="url(#soft)"/>
<circle cx="331.8" cy="300.6" r="4.75" fill="#b4f0a4" stroke="#d8141e" stroke-width="1.8"/>
<circle cx="378.6" cy="299.3" r="5.2" fill="url(#nd)" filter="url(#soft)"/>
<circle cx="425.7" cy="299.3" r="5.2" fill="url(#nd)" filter="url(#soft)"/>
<text x="136.1" y="239.7" font-size="9.9" text-anchor="middle">Arginine</text>
<text x="22.1" y="279.7" font-size="9.9" textLength="46.4" lengthAdjust="spacingAndGlyphs">N(omega)-</text>
<text x="22.1" y="288.7" font-size="9.9">Hydroxyarginine</text>
<text x="104" y="314.3" font-size="9.9" text-anchor="middle">Guanidineacetic</text>
<text x="105" y="323.3" font-size="9.9" text-anchor="middle">acid</text>
<text x="155.9" y="290.5" font-size="9.9" text-anchor="middle">Agmatine</text>
<text x="203.2" y="313.5" font-size="9.9" text-anchor="middle">Ornithine</text>
<text x="255.2" y="290.5" font-size="9.9" text-anchor="middle">S-Adenosyl-methionine</text>
<text x="56.2" y="351.2" font-size="9.9" text-anchor="middle">Nitric oxide</text>
<text x="105" y="351.2" font-size="9.9" text-anchor="middle">Creatine</text>
<text x="153.6" y="351.2" font-size="9.9" text-anchor="middle">Putrescine</text>
<text x="53.2" y="398.7" font-size="9.9" text-anchor="middle">Urea</text>
<text x="45.9" y="429.0" font-size="9.9" text-anchor="middle">Sarcosine</text>
<text x="107.5" y="429.0" font-size="9.9" text-anchor="middle">Phosphocreatine</text>
<text x="156.8" y="409.4" font-size="9.9" text-anchor="middle">4-Aminobutyraldehyde</text>
<text x="195.9" y="429.0" font-size="9.9" text-anchor="middle">N-Acetylputrescine</text>
<text x="235.7" y="407.5" font-size="9.9" text-anchor="middle">Spermidine</text>
<text x="246" y="468.4" font-size="9.9" text-anchor="middle">Spermine</text>
<text x="148" y="468.7" font-size="9.9" text-anchor="middle" textLength="91.6" lengthAdjust="spacingAndGlyphs">γ-Aminobutyric acid</text>
<text x="100.2" y="489.0" font-size="9.9" text-anchor="middle">Creatinine</text>
<text x="207" y="489.0" font-size="9.9" text-anchor="middle">N4-Acetylaminobutanal</text>
<text x="320.2" y="489.0" font-size="9.9" text-anchor="middle">L-Glutamyl 5-phosphate</text>
<text x="292" y="341.5" font-size="9.9" text-anchor="middle">L-Glutamate 5</text>
<text x="292" y="350.5" font-size="9.9" text-anchor="middle">-semialdehyde</text>
<text x="319.3" y="409.4" font-size="9.9" text-anchor="middle">Glutamate</text>
<text x="333.2" y="241.7" font-size="9.9" text-anchor="middle">Peptide</text>
<text x="331.8" y="292.1" font-size="9.9" text-anchor="middle">Proline</text>
<text x="340.9" y="371.8" font-size="9.9" text-anchor="middle">(S)-1-Pyrroline-5</text>
<text x="341" y="384.0" font-size="9.9" text-anchor="middle">-carboxylate</text>
<text x="376.1" y="350.5" font-size="9.9" text-anchor="middle">Hydroxyproline</text>
<text x="390.7" y="281.5" font-size="9.9" text-anchor="middle">L-1-Pyrroline-3-hydroxy</text>
<text x="390.7" y="290.3" font-size="9.9" text-anchor="middle">-5-carboxylate</text>
<text x="442.5" y="312.3" font-size="9.9" text-anchor="middle" textLength="91.3" lengthAdjust="spacingAndGlyphs">L-4-Hydroxyglutamate</text>
<text x="443.9" y="321.5" font-size="9.9" text-anchor="middle" textLength="57" lengthAdjust="spacingAndGlyphs">semialdehyde</text>
<text x="429.8" y="370.8" font-size="9.9" text-anchor="middle" textLength="45.2" lengthAdjust="spacingAndGlyphs">L-erythro-4</text>
<text x="430" y="379.7" font-size="9.9" text-anchor="middle" textLength="77.8" lengthAdjust="spacingAndGlyphs">-Hydroxyglutamate</text>
<text x="423.4" y="429.0" font-size="9.9" text-anchor="middle">(4R)-4-Hydroxy-2-oxoglutarate</text>
<text x="409.8" y="489.0" font-size="9.9" text-anchor="middle">Glyoxylate</text>
<text x="455.3" y="489.0" font-size="9.9" text-anchor="middle">Pyruvate</text>
<text x="230.4" y="370.8" font-size="9.9" text-anchor="middle" textLength="102.6" lengthAdjust="spacingAndGlyphs">S-Adenosylmethioninamine</text>
<circle cx="147.4" cy="506.9" r="4.85" fill="#fff" stroke="#d8202a" stroke-width="1.6"/>
<text x="158.2" y="511.6" font-size="10">p&lt;0.05</text>
<circle cx="204.3" cy="506.8" r="5.2" fill="url(#nd)" filter="url(#soft)"/>
<text x="214.3" y="511.6" font-size="10">No detected</text>
<text x="287.1" y="511" font-size="10">Log2FC</text>
<rect x="326.4" y="503.2" width="78.6" height="6.4" fill="url(#gb)"/>
<text x="325.8" y="519.9" font-size="10" text-anchor="middle">-3.56</text>
<text x="363.9" y="519.9" font-size="10" text-anchor="middle">0</text>
<text x="404.1" y="519.9" font-size="10" text-anchor="middle">3.56</text>
<text x="273.9" y="538.3" font-size="11.3" text-anchor="middle" font-weight="bold" fill="#000" style="stroke:#000">Arginine and proline metabolism</text>
<text x="18.4" y="563.3" font-size="12.5" font-weight="bold" fill="#000" style="stroke:#000">d</text>
<g stroke="#8c8c80" stroke-opacity="0.6" stroke-width="0.8">
<rect x="84.60" y="605.20" width="12.09" height="9.57" fill="#f9dcec"/>
<rect x="96.69" y="605.20" width="12.09" height="9.57" fill="#c6e6a7"/>
<rect x="108.78" y="605.20" width="12.09" height="9.57" fill="#9bd371"/>
<rect x="120.87" y="605.20" width="12.09" height="9.57" fill="#9bd371"/>
<rect x="132.96" y="605.20" width="12.09" height="9.57" fill="#edf5e2"/>
<rect x="145.05" y="605.20" width="12.09" height="9.57" fill="#9bd371"/>
<rect x="157.14" y="605.20" width="12.09" height="9.57" fill="#f9dcec"/>
<rect x="169.23" y="605.20" width="12.09" height="9.57" fill="#f9e8f0"/>
<rect x="181.32" y="605.20" width="12.09" height="9.57" fill="#f9e8f0"/>
<rect x="84.60" y="614.77" width="12.09" height="9.57" fill="#f9e8f0"/>
<rect x="96.69" y="614.77" width="12.09" height="9.57" fill="#c6e6a7"/>
<rect x="108.78" y="614.77" width="12.09" height="9.57" fill="#b0dc89"/>
<rect x="120.87" y="614.77" width="12.09" height="9.57" fill="#9bd371"/>
<rect x="132.96" y="614.77" width="12.09" height="9.57" fill="#ddf0ca"/>
<rect x="145.05" y="614.77" width="12.09" height="9.57" fill="#9bd371"/>
<rect x="157.14" y="614.77" width="12.09" height="9.57" fill="#f4c8e2"/>
<rect x="169.23" y="614.77" width="12.09" height="9.57" fill="#f6f3f4"/>
<rect x="181.32" y="614.77" width="12.09" height="9.57" fill="#f9e8f0"/>
<rect x="84.60" y="624.34" width="12.09" height="9.57" fill="#f4c8e2"/>
<rect x="96.69" y="624.34" width="12.09" height="9.57" fill="#ddf0ca"/>
<rect x="108.78" y="624.34" width="12.09" height="9.57" fill="#9bd371"/>
<rect x="120.87" y="624.34" width="12.09" height="9.57" fill="#9bd371"/>
<rect x="132.96" y="624.34" width="12.09" height="9.57" fill="#f6f3f4"/>
<rect x="145.05" y="624.34" width="12.09" height="9.57" fill="#9bd371"/>
<rect x="157.14" y="624.34" width="12.09" height="9.57" fill="#f9dcec"/>
<rect x="169.23" y="624.34" width="12.09" height="9.57" fill="#edf5e2"/>
<rect x="181.32" y="624.34" width="12.09" height="9.57" fill="#f6f3f4"/>
<rect x="84.60" y="633.91" width="12.09" height="9.57" fill="#f9dcec"/>
<rect x="96.69" y="633.91" width="12.09" height="9.57" fill="#c6e6a7"/>
<rect x="108.78" y="633.91" width="12.09" height="9.57" fill="#9bd371"/>
<rect x="120.87" y="633.91" width="12.09" height="9.57" fill="#85c759"/>
<rect x="132.96" y="633.91" width="12.09" height="9.57" fill="#edf5e2"/>
<rect x="145.05" y="633.91" width="12.09" height="9.57" fill="#ddf0ca"/>
<rect x="157.14" y="633.91" width="12.09" height="9.57" fill="#f4c8e2"/>
<rect x="169.23" y="633.91" width="12.09" height="9.57" fill="#edf5e2"/>
<rect x="181.32" y="633.91" width="12.09" height="9.57" fill="#edf5e2"/>
<rect x="84.60" y="643.48" width="12.09" height="9.57" fill="#b0dc89"/>
<rect x="96.69" y="643.48" width="12.09" height="9.57" fill="#9bd371"/>
<rect x="108.78" y="643.48" width="12.09" height="9.57" fill="#edf5e2"/>
<rect x="120.87" y="643.48" width="12.09" height="9.57" fill="#9bd371"/>
<rect x="132.96" y="643.48" width="12.09" height="9.57" fill="#f6f3f4"/>
<rect x="145.05" y="643.48" width="12.09" height="9.57" fill="#9bd371"/>
<rect x="157.14" y="643.48" width="12.09" height="9.57" fill="#f9dcec"/>
<rect x="169.23" y="643.48" width="12.09" height="9.57" fill="#edf5e2"/>
<rect x="181.32" y="643.48" width="12.09" height="9.57" fill="#f4c8e2"/>
<rect x="84.60" y="653.05" width="12.09" height="9.57" fill="#c6e6a7"/>
<rect x="96.69" y="653.05" width="12.09" height="9.57" fill="#ddf0ca"/>
<rect x="108.78" y="653.05" width="12.09" height="9.57" fill="#c6e6a7"/>
<rect x="120.87" y="653.05" width="12.09" height="9.57" fill="#ddf0ca"/>
<rect x="132.96" y="653.05" width="12.09" height="9.57" fill="#c6e6a7"/>
<rect x="145.05" y="653.05" width="12.09" height="9.57" fill="#9bd371"/>
<rect x="157.14" y="653.05" width="12.09" height="9.57" fill="#f4c8e2"/>
<rect x="169.23" y="653.05" width="12.09" height="9.57" fill="#f9dcec"/>
<rect x="181.32" y="653.05" width="12.09" height="9.57" fill="#f9e8f0"/>
<rect x="84.60" y="662.62" width="12.09" height="9.57" fill="#edf5e2"/>
<rect x="96.69" y="662.62" width="12.09" height="9.57" fill="#c6e6a7"/>
<rect x="108.78" y="662.62" width="12.09" height="9.57" fill="#c6e6a7"/>
<rect x="120.87" y="662.62" width="12.09" height="9.57" fill="#c6e6a7"/>
<rect x="132.96" y="662.62" width="12.09" height="9.57" fill="#c6e6a7"/>
<rect x="145.05" y="662.62" width="12.09" height="9.57" fill="#9bd371"/>
<rect x="157.14" y="662.62" width="12.09" height="9.57" fill="#edf5e2"/>
<rect x="169.23" y="662.62" width="12.09" height="9.57" fill="#eeaed2"/>
<rect x="181.32" y="662.62" width="12.09" height="9.57" fill="#f9dcec"/>
<rect x="84.60" y="672.19" width="12.09" height="9.57" fill="#de72b0"/>
<rect x="96.69" y="672.19" width="12.09" height="9.57" fill="#c6e6a7"/>
<rect x="108.78" y="672.19" width="12.09" height="9.57" fill="#c6e6a7"/>
<rect x="120.87" y="672.19" width="12.09" height="9.57" fill="#c6e6a7"/>
<rect x="132.96" y="672.19" width="12.09" height="9.57" fill="#edf5e2"/>
<rect x="145.05" y="672.19" width="12.09" height="9.57" fill="#c6e6a7"/>
<rect x="157.14" y="672.19" width="12.09" height="9.57" fill="#ddf0ca"/>
<rect x="169.23" y="672.19" width="12.09" height="9.57" fill="#edf5e2"/>
<rect x="181.32" y="672.19" width="12.09" height="9.57" fill="#ddf0ca"/>
<rect x="84.60" y="681.76" width="12.09" height="9.57" fill="#eeaed2"/>
<rect x="96.69" y="681.76" width="12.09" height="9.57" fill="#c6e6a7"/>
<rect x="108.78" y="681.76" width="12.09" height="9.57" fill="#9bd371"/>
<rect x="120.87" y="681.76" width="12.09" height="9.57" fill="#9bd371"/>
<rect x="132.96" y="681.76" width="12.09" height="9.57" fill="#f9e8f0"/>
<rect x="145.05" y="681.76" width="12.09" height="9.57" fill="#edf5e2"/>
<rect x="157.14" y="681.76" width="12.09" height="9.57" fill="#f6f3f4"/>
<rect x="169.23" y="681.76" width="12.09" height="9.57" fill="#ddf0ca"/>
<rect x="181.32" y="681.76" width="12.09" height="9.57" fill="#ddf0ca"/>
<rect x="84.60" y="691.33" width="12.09" height="9.57" fill="#e690c2"/>
<rect x="96.69" y="691.33" width="12.09" height="9.57" fill="#c6e6a7"/>
<rect x="108.78" y="691.33" width="12.09" height="9.57" fill="#b0dc89"/>
<rect x="120.87" y="691.33" width="12.09" height="9.57" fill="#9bd371"/>
<rect x="132.96" y="691.33" width="12.09" height="9.57" fill="#f6f3f4"/>
<rect x="145.05" y="691.33" width="12.09" height="9.57" fill="#edf5e2"/>
<rect x="157.14" y="691.33" width="12.09" height="9.57" fill="#edf5e2"/>
<rect x="169.23" y="691.33" width="12.09" height="9.57" fill="#ddf0ca"/>
<rect x="181.32" y="691.33" width="12.09" height="9.57" fill="#c6e6a7"/>
<rect x="84.60" y="700.90" width="12.09" height="9.57" fill="#e690c2"/>
<rect x="96.69" y="700.90" width="12.09" height="9.57" fill="#c6e6a7"/>
<rect x="108.78" y="700.90" width="12.09" height="9.57" fill="#b0dc89"/>
<rect x="120.87" y="700.90" width="12.09" height="9.57" fill="#b0dc89"/>
<rect x="132.96" y="700.90" width="12.09" height="9.57" fill="#f9e8f0"/>
<rect x="145.05" y="700.90" width="12.09" height="9.57" fill="#edf5e2"/>
<rect x="157.14" y="700.90" width="12.09" height="9.57" fill="#ddf0ca"/>
<rect x="169.23" y="700.90" width="12.09" height="9.57" fill="#ddf0ca"/>
<rect x="181.32" y="700.90" width="12.09" height="9.57" fill="#c6e6a7"/>
<rect x="84.60" y="710.47" width="12.09" height="9.57" fill="#f9dcec"/>
<rect x="96.69" y="710.47" width="12.09" height="9.57" fill="#c6e6a7"/>
<rect x="108.78" y="710.47" width="12.09" height="9.57" fill="#9bd371"/>
<rect x="120.87" y="710.47" width="12.09" height="9.57" fill="#9bd371"/>
<rect x="132.96" y="710.47" width="12.09" height="9.57" fill="#ddf0ca"/>
<rect x="145.05" y="710.47" width="12.09" height="9.57" fill="#f6f3f4"/>
<rect x="157.14" y="710.47" width="12.09" height="9.57" fill="#f9e8f0"/>
<rect x="169.23" y="710.47" width="12.09" height="9.57" fill="#edf5e2"/>
<rect x="181.32" y="710.47" width="12.09" height="9.57" fill="#edf5e2"/>
<rect x="84.60" y="720.04" width="12.09" height="9.57" fill="#f9dcec"/>
<rect x="96.69" y="720.04" width="12.09" height="9.57" fill="#ddf0ca"/>
<rect x="108.78" y="720.04" width="12.09" height="9.57" fill="#9bd371"/>
<rect x="120.87" y="720.04" width="12.09" height="9.57" fill="#72b848"/>
<rect x="132.96" y="720.04" width="12.09" height="9.57" fill="#f6f3f4"/>
<rect x="145.05" y="720.04" width="12.09" height="9.57" fill="#f6f3f4"/>
<rect x="157.14" y="720.04" width="12.09" height="9.57" fill="#f6f3f4"/>
<rect x="169.23" y="720.04" width="12.09" height="9.57" fill="#edf5e2"/>
<rect x="181.32" y="720.04" width="12.09" height="9.57" fill="#edf5e2"/>
<rect x="84.60" y="729.61" width="12.09" height="9.57" fill="#f4c8e2"/>
<rect x="96.69" y="729.61" width="12.09" height="9.57" fill="#c6e6a7"/>
<rect x="108.78" y="729.61" width="12.09" height="9.57" fill="#9bd371"/>
<rect x="120.87" y="729.61" width="12.09" height="9.57" fill="#b0dc89"/>
<rect x="132.96" y="729.61" width="12.09" height="9.57" fill="#edf5e2"/>
<rect x="145.05" y="729.61" width="12.09" height="9.57" fill="#edf5e2"/>
<rect x="157.14" y="729.61" width="12.09" height="9.57" fill="#edf5e2"/>
<rect x="169.23" y="729.61" width="12.09" height="9.57" fill="#f9dcec"/>
<rect x="181.32" y="729.61" width="12.09" height="9.57" fill="#edf5e2"/>
<rect x="84.60" y="739.18" width="12.09" height="9.57" fill="#eeaed2"/>
<rect x="96.69" y="739.18" width="12.09" height="9.57" fill="#c6e6a7"/>
<rect x="108.78" y="739.18" width="12.09" height="9.57" fill="#ddf0ca"/>
<rect x="120.87" y="739.18" width="12.09" height="9.57" fill="#9bd371"/>
<rect x="132.96" y="739.18" width="12.09" height="9.57" fill="#ddf0ca"/>
<rect x="145.05" y="739.18" width="12.09" height="9.57" fill="#c6e6a7"/>
<rect x="157.14" y="739.18" width="12.09" height="9.57" fill="#f9e8f0"/>
<rect x="169.23" y="739.18" width="12.09" height="9.57" fill="#edf5e2"/>
<rect x="181.32" y="739.18" width="12.09" height="9.57" fill="#edf5e2"/>
<rect x="84.60" y="748.75" width="12.09" height="9.57" fill="#f9e8f0"/>
<rect x="96.69" y="748.75" width="12.09" height="9.57" fill="#b0dc89"/>
<rect x="108.78" y="748.75" width="12.09" height="9.57" fill="#b0dc89"/>
<rect x="120.87" y="748.75" width="12.09" height="9.57" fill="#9bd371"/>
<rect x="132.96" y="748.75" width="12.09" height="9.57" fill="#f9dcec"/>
<rect x="145.05" y="748.75" width="12.09" height="9.57" fill="#f9dcec"/>
<rect x="157.14" y="748.75" width="12.09" height="9.57" fill="#ddf0ca"/>
<rect x="169.23" y="748.75" width="12.09" height="9.57" fill="#edf5e2"/>
<rect x="181.32" y="748.75" width="12.09" height="9.57" fill="#ddf0ca"/>
<rect x="84.60" y="758.32" width="12.09" height="9.57" fill="#f9dcec"/>
<rect x="96.69" y="758.32" width="12.09" height="9.57" fill="#b0dc89"/>
<rect x="108.78" y="758.32" width="12.09" height="9.57" fill="#b0dc89"/>
<rect x="120.87" y="758.32" width="12.09" height="9.57" fill="#85c759"/>
<rect x="132.96" y="758.32" width="12.09" height="9.57" fill="#f9dcec"/>
<rect x="145.05" y="758.32" width="12.09" height="9.57" fill="#f9e8f0"/>
<rect x="157.14" y="758.32" width="12.09" height="9.57" fill="#ddf0ca"/>
<rect x="169.23" y="758.32" width="12.09" height="9.57" fill="#c6e6a7"/>
<rect x="181.32" y="758.32" width="12.09" height="9.57" fill="#ddf0ca"/>
<rect x="84.60" y="767.89" width="12.09" height="9.57" fill="#f9e8f0"/>
<rect x="96.69" y="767.89" width="12.09" height="9.57" fill="#b0dc89"/>
<rect x="108.78" y="767.89" width="12.09" height="9.57" fill="#b0dc89"/>
<rect x="120.87" y="767.89" width="12.09" height="9.57" fill="#b0dc89"/>
<rect x="132.96" y="767.89" width="12.09" height="9.57" fill="#f9dcec"/>
<rect x="145.05" y="767.89" width="12.09" height="9.57" fill="#f9dcec"/>
<rect x="157.14" y="767.89" width="12.09" height="9.57" fill="#ddf0ca"/>
<rect x="169.23" y="767.89" width="12.09" height="9.57" fill="#c6e6a7"/>
<rect x="181.32" y="767.89" width="12.09" height="9.57" fill="#c6e6a7"/>
<rect x="84.60" y="777.46" width="12.09" height="9.57" fill="#f9dcec"/>
<rect x="96.69" y="777.46" width="12.09" height="9.57" fill="#b0dc89"/>
<rect x="108.78" y="777.46" width="12.09" height="9.57" fill="#b0dc89"/>
<rect x="120.87" y="777.46" width="12.09" height="9.57" fill="#b0dc89"/>
<rect x="132.96" y="777.46" width="12.09" height="9.57" fill="#f9dcec"/>
<rect x="145.05" y="777.46" width="12.09" height="9.57" fill="#f9e8f0"/>
<rect x="157.14" y="777.46" width="12.09" height="9.57" fill="#ddf0ca"/>
<rect x="169.23" y="777.46" width="12.09" height="9.57" fill="#edf5e2"/>
<rect x="181.32" y="777.46" width="12.09" height="9.57" fill="#c6e6a7"/>
<rect x="84.60" y="787.03" width="12.09" height="9.57" fill="#f9dcec"/>
<rect x="96.69" y="787.03" width="12.09" height="9.57" fill="#c6e6a7"/>
<rect x="108.78" y="787.03" width="12.09" height="9.57" fill="#b0dc89"/>
<rect x="120.87" y="787.03" width="12.09" height="9.57" fill="#b0dc89"/>
<rect x="132.96" y="787.03" width="12.09" height="9.57" fill="#f9dcec"/>
<rect x="145.05" y="787.03" width="12.09" height="9.57" fill="#f9dcec"/>
<rect x="157.14" y="787.03" width="12.09" height="9.57" fill="#ddf0ca"/>
<rect x="169.23" y="787.03" width="12.09" height="9.57" fill="#c6e6a7"/>
<rect x="181.32" y="787.03" width="12.09" height="9.57" fill="#c6e6a7"/>
<rect x="84.60" y="796.60" width="12.09" height="9.57" fill="#f9dcec"/>
<rect x="96.69" y="796.60" width="12.09" height="9.57" fill="#c6e6a7"/>
<rect x="108.78" y="796.60" width="12.09" height="9.57" fill="#b0dc89"/>
<rect x="120.87" y="796.60" width="12.09" height="9.57" fill="#9bd371"/>
<rect x="132.96" y="796.60" width="12.09" height="9.57" fill="#f9e8f0"/>
<rect x="145.05" y="796.60" width="12.09" height="9.57" fill="#f9dcec"/>
<rect x="157.14" y="796.60" width="12.09" height="9.57" fill="#ddf0ca"/>
<rect x="169.23" y="796.60" width="12.09" height="9.57" fill="#c6e6a7"/>
<rect x="181.32" y="796.60" width="12.09" height="9.57" fill="#c6e6a7"/>
<rect x="84.60" y="806.17" width="12.09" height="9.57" fill="#f6f3f4"/>
<rect x="96.69" y="806.17" width="12.09" height="9.57" fill="#9bd371"/>
<rect x="108.78" y="806.17" width="12.09" height="9.57" fill="#72b848"/>
<rect x="120.87" y="806.17" width="12.09" height="9.57" fill="#c6e6a7"/>
<rect x="132.96" y="806.17" width="12.09" height="9.57" fill="#f9dcec"/>
<rect x="145.05" y="806.17" width="12.09" height="9.57" fill="#edf5e2"/>
<rect x="157.14" y="806.17" width="12.09" height="9.57" fill="#edf5e2"/>
<rect x="169.23" y="806.17" width="12.09" height="9.57" fill="#edf5e2"/>
<rect x="181.32" y="806.17" width="12.09" height="9.57" fill="#f9dcec"/>
<rect x="84.60" y="815.74" width="12.09" height="9.57" fill="#f6f3f4"/>
<rect x="96.69" y="815.74" width="12.09" height="9.57" fill="#c6e6a7"/>
<rect x="108.78" y="815.74" width="12.09" height="9.57" fill="#72b848"/>
<rect x="120.87" y="815.74" width="12.09" height="9.57" fill="#72b848"/>
<rect x="132.96" y="815.74" width="12.09" height="9.57" fill="#f9e8f0"/>
<rect x="145.05" y="815.74" width="12.09" height="9.57" fill="#f6f3f4"/>
<rect x="157.14" y="815.74" width="12.09" height="9.57" fill="#ddf0ca"/>
<rect x="169.23" y="815.74" width="12.09" height="9.57" fill="#f9e8f0"/>
<rect x="181.32" y="815.74" width="12.09" height="9.57" fill="#f6f3f4"/>
</g>
<rect x="84.60" y="600.6" width="12.09" height="4.5" fill="#c6c6c6"/>
<rect x="96.69" y="600.6" width="36.27" height="4.5" fill="#18e8f8"/>
<rect x="132.96" y="600.6" width="24.18" height="4.5" fill="#c6c6c6"/>
<rect x="157.14" y="600.6" width="36.27" height="4.5" fill="#f89838"/>
<text x="196" y="613.1" font-size="9.85">Glutamine</text>
<text x="196" y="622.7" font-size="9.85">Pyridoxamine</text>
<text x="196" y="632.3" font-size="9.85">Asparagine</text>
<text x="196" y="641.9" font-size="9.85">Homoserine</text>
<text x="196" y="651.5" font-size="9.85">Trimethylamine N−oxide</text>
<text x="196" y="661.1" font-size="9.85">1−Methylnicotinamide</text>
<text x="196" y="670.8" font-size="9.85">Trimethyllysine</text>
<text x="196" y="680.4" font-size="9.85">7−Methylguanosine</text>
<text x="196" y="690.0" font-size="9.85">Proline</text>
<circle cx="302.7" cy="686.2" r="3.5" fill="#0a0ae6"/>
<text x="196" y="699.6" font-size="9.85">1−Methyladenosine</text>
<circle cx="302.7" cy="695.8" r="3.5" fill="#0a0ae6"/>
<text x="196" y="709.2" font-size="9.85">Carnitine−C6</text>
<circle cx="302.7" cy="705.4" r="3.5" fill="#0a0ae6"/>
<text x="196" y="718.8" font-size="9.85">Hydroxyproline</text>
<text x="196" y="728.4" font-size="9.85">N−Acetyl−L−lysine</text>
<circle cx="302.7" cy="724.6" r="3.5" fill="#0a0ae6"/>
<text x="196" y="738.0" font-size="9.85">Carnitine−C8</text>
<text x="196" y="747.6" font-size="9.85">Uridine</text>
<text x="196" y="757.2" font-size="9.85">Propionylcholine</text>
<circle cx="302.7" cy="753.5" r="3.5" fill="#0a0ae6"/>
<text x="196" y="766.9" font-size="9.85">Pyroglutamic acid</text>
<circle cx="302.7" cy="763.1" r="3.5" fill="#0a0ae6"/>
<text x="196" y="776.5" font-size="9.85">Ethanolamine</text>
<circle cx="302.7" cy="772.7" r="3.5" fill="#0a0ae6"/>
<text x="196" y="786.1" font-size="9.85">Carnitine</text>
<circle cx="302.7" cy="782.3" r="3.5" fill="#0a0ae6"/>
<text x="196" y="795.7" font-size="9.85">Choline</text>
<circle cx="302.7" cy="791.9" r="3.5" fill="#0a0ae6"/>
<text x="196" y="805.3" font-size="9.85">N,N−Dimethylglycine</text>
<circle cx="302.7" cy="801.5" r="3.5" fill="#0a0ae6"/>
<text x="196" y="814.9" font-size="9.85">Argininosuccinic acid</text>
<circle cx="302.7" cy="811.1" r="3.5" fill="#0a0ae6"/>
<text x="196" y="824.5" font-size="9.85">Glycine</text>
<circle cx="302.7" cy="820.7" r="3.5" fill="#0a0ae6"/>
<rect x="192.1" y="569.3" width="5.6" height="6" fill="#c6c6c6"/>
<text x="199.6" y="575.7" font-size="9.85">Ctrl</text>
<rect x="192.1" y="578.8" width="5.6" height="6" fill="#18e8f8"/>
<text x="199.6" y="585.2" font-size="9.85">MASCp36+saline</text>
<rect x="192.1" y="588.2" width="5.6" height="6" fill="#f89838"/>
<text x="199.6" y="594.6" font-size="9.85">MASCp36+NMN</text>
<circle cx="59.5" cy="839.3" r="3.0" fill="#0a0ae6"/>
<text x="64.6" y="842.8" font-size="9.95">Significantly down-regulated of MASCp36+saline vs Ctrl</text>
<rect x="40.6" y="658.9" width="5.4" height="79.3" fill="url(#gz)"/>
<text x="49.7" y="663.1" font-size="9.2">3</text>
<text x="49.7" y="677.6" font-size="9.2">2</text>
<text x="49.7" y="692.9" font-size="9.2">1</text>
<text x="49.7" y="708.3" font-size="9.2">0</text>
<text x="47.0" y="724.1" font-size="9.2">−1</text>
<text x="47.0" y="739.9" font-size="9.2">−2</text>
<text x="27.6" y="751.2" font-size="9.9">Z-score</text>
<path d="M114.8 600.6 L114.8 597.6 L126.9 597.6 L126.9 600.6 M102.7 600.6 L102.7 597.3 L120.9 597.3 M139.0 600.6 L139.0 595.6 L151.1 595.6 L151.1 600.6 M175.3 600.6 L175.3 596.9 L187.4 596.9 L187.4 600.6 M163.2 600.6 L163.2 594.8 L181.3 594.8 L181.3 596.9 M145.1 595.6 L145.1 590.0 L172.3 590.0 L172.3 594.8 M111.8 597.3 L111.8 589.0 L158.7 589.0 L158.7 590.0 M90.6 600.6 L90.6 582.7 L135.2 582.7 L135.2 589.0 M84.6 610.0 L81.5 610.0 L81.5 619.6 L84.6 619.6 M84.6 629.1 L81.5 629.1 L81.5 638.7 L84.6 638.7 M81.5 614.8 L77.7 614.8 L77.7 633.9 L81.5 633.9 M84.6 657.8 L76.3 657.8 L76.3 667.4 L84.6 667.4 M84.6 648.3 L72.7 648.3 L72.7 662.6 L76.3 662.6 M77.7 624.3 L71.4 624.3 L71.4 655.4 L72.7 655.4 M84.6 696.1 L82.7 696.1 L82.7 705.7 L84.6 705.7 M84.6 686.5 L80.6 686.5 L80.6 700.9 L82.7 700.9 M84.6 677.0 L78.5 677.0 L78.5 693.7 L80.6 693.7 M84.6 715.3 L79.5 715.3 L79.5 724.8 L84.6 724.8 M84.6 734.4 L76.8 734.4 L76.8 744.0 L84.6 744.0 M79.5 720.0 L75.8 720.0 L75.8 739.2 L76.8 739.2 M78.5 685.3 L74.8 685.3 L74.8 729.6 L75.8 729.6 M84.6 772.7 L83.5 772.7 L83.5 782.2 L84.6 782.2 M83.5 777.5 L83.1 777.5 L83.1 791.8 L84.6 791.8 M83.1 784.6 L82.7 784.6 L82.7 801.4 L84.6 801.4 M84.6 763.1 L82.0 763.1 L82.0 793.0 L82.7 793.0 M84.6 753.5 L80.5 753.5 L80.5 778.1 L82.0 778.1 M84.6 811.0 L77.3 811.0 L77.3 820.5 L84.6 820.5 M80.5 765.8 L72.9 765.8 L72.9 815.7 L77.3 815.7 M74.8 707.5 L70.1 707.5 L70.1 790.8 L72.9 790.8 M71.4 639.9 L64.1 639.9 L64.1 749.1 L70.1 749.1" fill="none" stroke="#111" stroke-width="0.9"/>
<text x="405.4" y="562.4" font-size="12.5" font-weight="bold" fill="#000" style="stroke:#000">e</text>
<polygon points="452.3,625.5 446.2,614.4 452.3,616.8 458.4,614.4" fill="#000"/>
<line x1="452.3" y1="605.2" x2="452.3" y2="616.8" stroke="#000" stroke-width="1.7"/>
<polygon points="498.9,634.1 499.6,646.8 495.1,641.9 488.6,641.4" fill="#000"/>
<line x1="486.7" y1="659.3" x2="495.1" y2="641.9" stroke="#000" stroke-width="1.7"/>
<polygon points="549.8,599.6 541.8,609.3 541.8,602.8 537.2,598.0" fill="#000"/>
<line x1="521.6" y1="610.8" x2="541.8" y2="602.8" stroke="#000" stroke-width="1.7"/>
<polygon points="622.5,612.2 609.9,613.5 614.5,608.8 614.6,602.3" fill="#000"/>
<line x1="591.7" y1="599.3" x2="614.5" y2="608.8" stroke="#000" stroke-width="1.7"/>
<polygon points="656.8,657.9 646.2,650.9 652.7,650.2 657.0,645.2" fill="#000"/>
<line x1="644.6" y1="634.9" x2="652.7" y2="650.2" stroke="#000" stroke-width="1.7"/>
<polygon points="660.6,703.8 654.5,692.7 660.6,695.1 666.7,692.7" fill="#000"/>
<line x1="660.6" y1="671" x2="660.6" y2="695.1" stroke="#000" stroke-width="1.7"/>
<polygon points="643.2,743.6 643.9,731.0 647.8,736.3 654.2,737.4" fill="#000"/>
<line x1="657.5" y1="720.7" x2="647.8" y2="736.3" stroke="#000" stroke-width="1.7"/>
<polygon points="595.7,773.3 603.4,763.2 603.6,769.8 608.3,774.4" fill="#000"/>
<line x1="629.9" y1="758.1" x2="603.6" y2="769.8" stroke="#000" stroke-width="1.7"/>
<polygon points="517.2,761.6 529.8,760.4 525.2,765.0 525.0,771.6" fill="#000"/>
<line x1="549.8" y1="775.6" x2="525.2" y2="765.0" stroke="#000" stroke-width="1.7"/>
<polygon points="487.3,721.0 498.1,727.6 491.6,728.5 487.5,733.6" fill="#000"/>
<line x1="497.3" y1="738.4" x2="491.6" y2="728.5" stroke="#000" stroke-width="1.7"/>
<polygon points="483.8,671.6 489.6,682.9 483.6,680.3 477.4,682.5" fill="#000"/>
<line x1="483" y1="698.6" x2="483.6" y2="680.3" stroke="#000" stroke-width="1.7"/>
<path d="M454.7 642.4 C458 650.5 474 654 492.3 645" fill="none" stroke="#000" stroke-width="1.6"/>
<rect x="452.5" y="584.1" width="16.5" height="16.5" rx="1.7" fill="#f5d8f4" stroke="#c9c9c9" stroke-width="2.1"/>
<rect x="434.4" y="584.3" width="16.2" height="16.2" rx="1.4" fill="#38f838" stroke="#e21216" stroke-width="2.5"/>
<rect x="510.4" y="616.2" width="16.5" height="16.5" rx="1.7" fill="#d0f4d0" stroke="#c9c9c9" stroke-width="2.1"/>
<rect x="492.1" y="616.2" width="16.5" height="16.5" rx="1.7" fill="#f0d8ee" stroke="#c9c9c9" stroke-width="2.1"/>
<rect x="571.3" y="593.2" width="16.5" height="16.5" rx="1.7" fill="#f0d8f0" stroke="#c9c9c9" stroke-width="2.1"/>
<rect x="553.0" y="593.2" width="16.5" height="16.5" rx="1.7" fill="#90ee90" stroke="#c9c9c9" stroke-width="2.1"/>
<rect x="629.6" y="615.8" width="16.5" height="16.5" rx="1.7" fill="#c0f0c0" stroke="#c9c9c9" stroke-width="2.1"/>
<rect x="611.5" y="616.0" width="16.2" height="16.2" rx="1.4" fill="#ff00e8" stroke="#e21216" stroke-width="2.5"/>
<rect x="489.5" y="702.6" width="16.5" height="16.5" rx="1.7" fill="#f2ccf6" stroke="#c9c9c9" stroke-width="2.1"/>
<rect x="471.4" y="702.8" width="16.2" height="16.2" rx="1.4" fill="#44f444" stroke="#e21216" stroke-width="2.5"/>
<rect x="513.4" y="742.4" width="16.5" height="16.5" rx="1.7" fill="#f2c4f4" stroke="#c9c9c9" stroke-width="2.1"/>
<rect x="495.3" y="742.6" width="16.2" height="16.2" rx="1.4" fill="#08f008" stroke="#e21216" stroke-width="2.5"/>
<rect x="573.4" y="764.9" width="16.5" height="16.5" rx="1.7" fill="#f5d0f2" stroke="#c9c9c9" stroke-width="2.1"/>
<rect x="555.1" y="764.9" width="16.5" height="16.5" rx="1.7" fill="#dcf5dc" stroke="#c9c9c9" stroke-width="2.1"/>
<text x="454" y="578.0" font-size="11.2" text-anchor="middle">Pyruvate</text>
<text x="499.4" y="611.1" font-size="11.2" text-anchor="middle">Citrate</text>
<text x="453.5" y="637.2" font-size="11.2" text-anchor="middle">Acetyl-CoA</text>
<text x="485.8" y="668.8" font-size="11.2" text-anchor="middle">Oxaloacetate</text>
<text x="576.1" y="587.8" font-size="11.2" text-anchor="middle">cis-Aconitic acid</text>
<text x="649.3" y="611.5" font-size="11.2" text-anchor="middle">Isocitrate</text>
<text x="659.7" y="668.3" font-size="11.2" text-anchor="middle">Oxalosuccinate</text>
<text x="661.3" y="713.5" font-size="11.2" text-anchor="middle" textLength="84.4" lengthAdjust="spacingAndGlyphs">α-Ketoglutarate</text>
<text x="637.5" y="754.0" font-size="11.2" text-anchor="middle">Succinyl-CoA</text>
<text x="574.2" y="792.0" font-size="11.2" text-anchor="middle">Succinate</text>
<text x="467.5" y="754.0" font-size="11.2" text-anchor="middle">Fumarate</text>
<text x="452.6" y="713.0" font-size="11.2" text-anchor="middle">Malate</text>
<text x="568.3" y="691" font-size="11.3" text-anchor="middle" font-weight="bold" fill="#000" style="stroke:#000">TCA cycle</text>
<text x="415.9" y="808.8" font-size="9.9" text-anchor="middle">MASCp36+saline</text>
<text x="415.9" y="818.5" font-size="9.9" text-anchor="middle">vs Ctrl</text>
<text x="539.2" y="808.8" font-size="9.9" text-anchor="middle">MASCp36+saline</text>
<text x="539.2" y="818.5" font-size="9.9" text-anchor="middle">vs MASCp36+NMN</text>
<rect x="460.5" y="803.8" width="12.5" height="12.6" rx="1.5" fill="#fff" stroke="#cbcbcb" stroke-width="2.4"/>
<rect x="475.1" y="803.8" width="12.5" height="12.6" rx="1.5" fill="#fff" stroke="#cbcbcb" stroke-width="2.4"/>
<rect x="468.6" y="823.1" width="12.0" height="12.3" rx="1.4" fill="#fff" stroke="#e01010" stroke-width="2.4"/>
<text x="484.4" y="832.2" font-size="10">p&lt;0.05</text>
<text x="656.7" y="814.2" font-size="9.8" text-anchor="middle">Log2FC</text>
<rect x="607.7" y="816.7" width="83.4" height="7.0" fill="url(#ge)"/>
<text x="608.4" y="833" font-size="9.8" text-anchor="middle">-1.29</text>
<text x="643.3" y="833" font-size="9.8" text-anchor="middle">0</text>
<text x="692.7" y="833" font-size="9.8" text-anchor="middle">2.21</text>
</g>
</svg>
</body></html>
